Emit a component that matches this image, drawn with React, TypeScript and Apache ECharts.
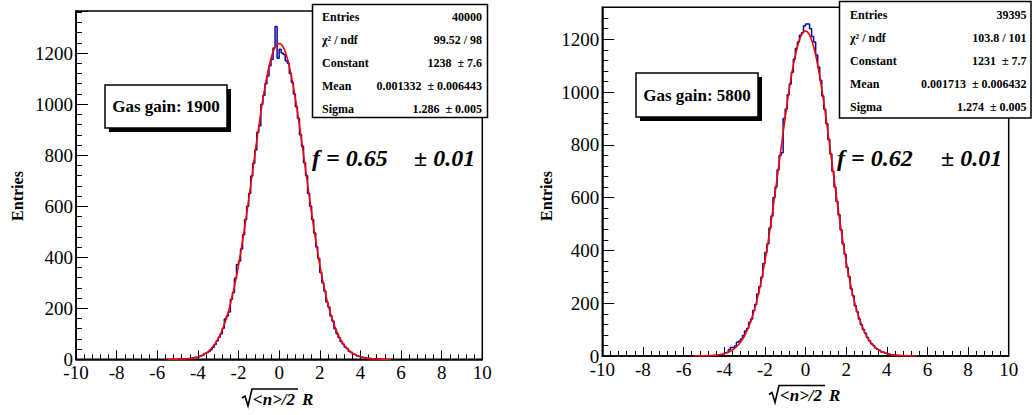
import React, { useEffect, useRef } from "react";
import * as echarts from "echarts";

// ---------- data ----------
const BIN_START = -5.0;
const BIN_WIDTH = 0.1;

// histogram counts, bins of width 0.1 from -5.0 to 5.0 (gas gain 1900)
const countsGain1900 = [
  0, 1, 0, 2, 2, 3, 5, 4, 7, 9,
  10, 13, 16, 23, 26, 31, 37, 47, 58, 72,
  86, 100, 122, 158, 170, 185, 235, 262, 318, 372,
  385, 432, 488, 548, 600, 650, 718, 768, 820, 890,
  915, 1000, 1035, 1080, 1110, 1150, 1175, 1220, 1304, 1180,
  1215, 1200, 1195, 1170, 1160, 1120, 1085, 1040, 990, 945,
  880, 835, 770, 720, 650, 600, 548, 495, 440, 395,
  340, 300, 268, 225, 205, 170, 150, 120, 100, 85,
  70, 60, 48, 42, 32, 28, 20, 18, 13, 11,
  8, 7, 5, 4, 3, 2, 2, 1, 1, 0,
];

// histogram counts, bins of width 0.1 from -5.0 to 5.0 (gas gain 5800)
const countsGain5800 = [
  0, 0, 1, 1, 2, 3, 4, 5, 6, 8,
  12, 14, 24, 32, 30, 38, 52, 56, 64, 78,
  95, 104, 128, 140, 172, 195, 235, 262, 298, 350,
  392, 425, 485, 530, 600, 640, 705, 760, 770, 900,
  935, 990, 1030, 1075, 1125, 1165, 1190, 1215, 1225, 1250,
  1258, 1258, 1240, 1210, 1190, 1140, 1095, 1045, 985, 935,
  880, 820, 765, 700, 640, 585, 535, 478, 425, 385,
  335, 300, 255, 228, 190, 168, 140, 118, 100, 86,
  70, 58, 46, 40, 30, 26, 22, 15, 14, 10,
  8, 6, 5, 4, 3, 2, 2, 1, 1, 0,
];

// Gaussian fit results (as printed in the stats boxes)
const fitGain1900 = { constant: 1238, mean: 0.001332, sigma: 1.286 };
const fitGain5800 = { constant: 1231, mean: 0.001713, sigma: 1.274 };

const statsGain1900 = [
  ["Entries", "40000"],
  ["\u03c7\u00b2 / ndf", "99.52 / 98"],
  ["Constant", "1238  \u00b1 7.6"],
  ["Mean", "0.001332  \u00b1 0.006443"],
  ["Sigma", "1.286  \u00b1 0.005"],
];
const statsGain5800 = [
  ["Entries", "39395"],
  ["\u03c7\u00b2 / ndf", "103.8 / 101"],
  ["Constant", "1231  \u00b1 7.7"],
  ["Mean", "0.001713  \u00b1 0.006432"],
  ["Sigma", "1.274  \u00b1 0.005"],
];

const gainLabels = ["Gas gain: 1900", "Gas gain: 5800"];
const fValues = ["f = 0.65", "f = 0.62"];
const fErrors = ["\u00b1 0.01", "\u00b1 0.01"];
const xRange = [-10, 10];
const yMaxes = [1365, 1321];

// ---------- helpers ----------
function histPoints(counts: number[]) {
  const pts: number[][] = [[BIN_START, 0]];
  counts.forEach((c, i) => pts.push([BIN_START + i * BIN_WIDTH, c]));
  const end = BIN_START + counts.length * BIN_WIDTH;
  pts.push([end, counts[counts.length - 1]]);
  pts.push([end, 0]);
  return pts;
}

function fitPoints(fit: { constant: number; mean: number; sigma: number }) {
  const pts: number[][] = [];
  for (let k = -110; k <= 110; k++) {
    const x = k * 0.05;
    const z = (x - fit.mean) / fit.sigma;
    pts.push([x, fit.constant * Math.exp(-0.5 * z * z)]);
  }
  return pts;
}

const FONT = "Liberation Serif";

type Layout = {
  left: number; top: number; width: number; height: number;
  statsX: number; statsY: number; statsW: number; statsH: number; statsRow0: number; statsRowStep: number;
  labelX: number; valueX: number;
  gasX: number; gasY: number; gasW: number; gasH: number;
  fX: number; fErrX: number; fY: number;
  yTitleX: number; yTitleY: number;
  xTitleX: number; xTitleY: number;
};

const layouts: Layout[] = [
  {
    left: 76, top: 11, width: 406.3, height: 348.3,
    statsX: 312.5, statsY: 4.5, statsW: 175, statsH: 113, statsRow0: 16.5, statsRowStep: 23,
    labelX: 322, valueX: 482,
    gasX: 105, gasY: 85, gasW: 122, gasH: 43,
    fX: 312, fErrX: 414, fY: 158,
    yTitleX: 17, yTitleY: 196,
    xTitleX: 243, xTitleY: 399,
  },
  {
    left: 602.3, top: 7.3, width: 406.4, height: 348.7,
    statsX: 839.5, statsY: 1.5, statsW: 191.5, statsH: 116.5, statsRow0: 14.5, statsRowStep: 23.2,
    labelX: 850, valueX: 1026.5,
    gasX: 636, gasY: 73, gasW: 122, gasH: 44,
    fX: 837, fErrX: 941, fY: 158,
    yTitleX: 546, yTitleY: 196,
    xTitleX: 770, xTitleY: 395.5,
  },
];

function panelGraphics(p: number) {
  const L = layouts[p];
  const stats = p === 0 ? statsGain1900 : statsGain5800;
  const els: any[] = [];
  // stats box
  els.push({
    type: "rect", z: 100,
    shape: { x: L.statsX, y: L.statsY, width: L.statsW, height: L.statsH },
    style: { fill: "#fff", stroke: "#000", lineWidth: 1.5 },
  });
  stats.forEach((row, i) => {
    const y = L.statsRow0 + i * L.statsRowStep;
    els.push({
      type: "text", z: 101, x: L.labelX, y,
      style: { text: row[0], font: `bold 12px "${FONT}"`, fill: "#000", textAlign: "left", textVerticalAlign: "middle" },
    });
    els.push({
      type: "text", z: 101, x: L.valueX, y,
      style: { text: row[1], font: `bold 12px "${FONT}"`, fill: "#000", textAlign: "right", textVerticalAlign: "middle" },
    });
  });
  // gas gain box with shadow
  els.push({
    type: "rect", z: 100,
    shape: { x: L.gasX + 4, y: L.gasY + 4, width: L.gasW, height: L.gasH },
    style: { fill: "#000" },
  });
  els.push({
    type: "rect", z: 101,
    shape: { x: L.gasX, y: L.gasY, width: L.gasW, height: L.gasH },
    style: { fill: "#fff", stroke: "#000", lineWidth: 1.5 },
  });
  els.push({
    type: "text", z: 102, x: L.gasX + L.gasW / 2, y: L.gasY + L.gasH / 2,
    style: { text: gainLabels[p], font: `bold 17px "${FONT}"`, fill: "#000", textAlign: "center", textVerticalAlign: "middle" },
  });
  // f = ... text
  els.push({
    type: "text", z: 102, x: L.fX, y: L.fY,
    style: { text: fValues[p], font: `italic bold 24px "${FONT}"`, fill: "#000", textAlign: "left", textVerticalAlign: "middle" },
  });
  els.push({
    type: "text", z: 102, x: L.fErrX, y: L.fY,
    style: { text: fErrors[p], font: `italic bold 24px "${FONT}"`, fill: "#000", textAlign: "left", textVerticalAlign: "middle" },
  });
  // y title
  els.push({
    type: "text", z: 102, x: L.yTitleX, y: L.yTitleY, rotation: Math.PI / 2,
    style: { text: "Entries", font: `bold 16px "${FONT}"`, fill: "#000", textAlign: "center", textVerticalAlign: "middle" },
  });
  // x title: sqrt(<n>/2) R
  const x0 = L.xTitleX;
  const yc = L.xTitleY;
  els.push({
    type: "polyline", z: 102,
    shape: { points: [[x0 - 1, yc - 1], [x0 + 2, yc - 3], [x0 + 5, yc + 7], [x0 + 9, yc - 10], [x0 + 55, yc - 10]] },
    style: { stroke: "#000", lineWidth: 1.6, fill: null },
  });
  els.push({
    type: "text", z: 102, x: x0 + 10, y: yc,
    style: { text: "<n>/2", font: `italic bold 17px "${FONT}"`, fill: "#000", textAlign: "left", textVerticalAlign: "middle" },
  });
  els.push({
    type: "text", z: 102, x: x0 + 59, y: yc,
    style: { text: "R", font: `italic bold 17px "${FONT}"`, fill: "#000", textAlign: "left", textVerticalAlign: "middle" },
  });
  return els;
}

export default function App() {
  const ref = useRef<HTMLDivElement>(null);
  useEffect(() => {
    if (!ref.current) return;
    const chart = echarts.init(ref.current, null, { renderer: "svg" });
    const grids = layouts.map((L) => ({
      left: L.left, top: L.top, width: L.width, height: L.height,
      show: true, borderColor: "#000", borderWidth: 1.5, backgroundColor: "transparent",
      containLabel: false, outerBoundsMode: "none",
    }));
    const xAxes = layouts.map((_, i) => ({
      type: "value", gridIndex: i, min: xRange[0], max: xRange[1], interval: 2,
      axisLine: { show: true, onZero: false, lineStyle: { color: "#000", width: 1.5 } },
      axisTick: { show: true, inside: true, length: 9, lineStyle: { color: "#000", width: 1 } },
      minorTick: { show: true, splitNumber: 5, length: 5, lineStyle: { color: "#000", width: 1 } },
      splitLine: { show: false },
      axisLabel: {
        color: "#000", fontFamily: FONT, fontSize: 19, margin: 4, hideOverlap: false,
        formatter: (v: number) => String(v),
      },
    }));
    const yAxes = layouts.map((_, i) => ({
      type: "value", gridIndex: i, min: 0, max: yMaxes[i], interval: 200,
      axisLine: { show: true, onZero: false, lineStyle: { color: "#000", width: 1.5 } },
      axisTick: { show: true, inside: true, length: 12, lineStyle: { color: "#000", width: 1 } },
      minorTick: { show: true, splitNumber: 5, length: 6, lineStyle: { color: "#000", width: 1 } },
      splitLine: { show: false },
      axisLabel: {
        color: "#000", fontFamily: FONT, fontSize: 19, margin: 3, showMaxLabel: false, hideOverlap: false,
        formatter: (v: number) => String(v),
      },
    }));
    const series: any[] = [];
    [countsGain1900, countsGain5800].forEach((counts, i) => {
      series.push({
        type: "line", xAxisIndex: i, yAxisIndex: i, step: "end", symbol: "none",
        data: histPoints(counts),
        lineStyle: { color: "#0a0a9c", width: 1.5 }, z: 3,
      });
    });
    [fitGain1900, fitGain5800].forEach((fit, i) => {
      series.push({
        type: "line", xAxisIndex: i, yAxisIndex: i, symbol: "none", smooth: false,
        data: fitPoints(fit),
        lineStyle: { color: "#ff0000", width: 1.6 }, z: 4,
      });
    });
    chart.setOption({
      animation: false,
      backgroundColor: "#fff",
      grid: grids,
      xAxis: xAxes,
      yAxis: yAxes,
      series,
      graphic: [...panelGraphics(0), ...panelGraphics(1)],
    });
    return () => chart.dispose();
  }, []);
  return (
    <div
      ref={ref}
      style={{ position: "absolute", left: 0, top: 0, width: 1036, height: 415, background: "#fff" }}
    />
  );
}
